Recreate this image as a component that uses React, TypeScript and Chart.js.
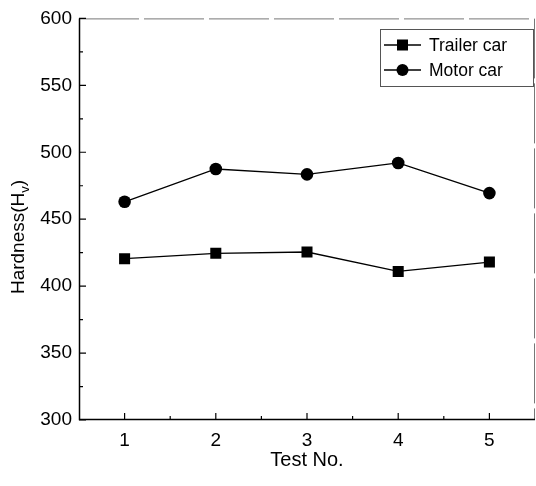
import React, { useEffect, useRef } from "react";
import { Chart, registerables } from "chart.js";

Chart.register(...registerables);

const testNumbers = ["1", "2", "3", "4", "5"];
const trailerCar = [420.5, 424.5, 425.5, 411, 418];
const motorCar = [463, 487.5, 483.5, 492, 469.5];
const yTickValues = [300, 350, 400, 450, 500, 550, 600];
const seriesNames = ["Trailer car", "Motor car"];
const xTitle = "Test No.";
const yTitleMain = "Hardness(H";
const yTitleSub = "v";
const yTitleEnd = ")";

const FONT = "'Liberation Sans', Arial, sans-serif";

const framePlugin = {
  id: "frame",
  afterDraw(chart: any) {
    const { ctx, chartArea: a, scales } = chart;
    const x = scales.x;
    const y = scales.y;
    ctx.save();
    // frame
    ctx.lineWidth = 1;
    ctx.strokeStyle = "#777";
    ctx.setLineDash([60, 5]);
    ctx.beginPath();
    ctx.moveTo(a.left, a.top + 0.5);
    ctx.lineTo(a.right - 0.5, a.top + 0.5);
    ctx.lineTo(a.right - 0.5, a.bottom);
    ctx.stroke();
    ctx.setLineDash([]);
    ctx.strokeStyle = "#000";
    ctx.lineWidth = 1.5;
    ctx.beginPath();
    ctx.moveTo(a.left + 0.5, a.top);
    ctx.lineTo(a.left + 0.5, a.bottom - 0.5);
    ctx.lineTo(a.right, a.bottom - 0.5);
    ctx.stroke();

    // inward ticks
    ctx.lineWidth = 1.2;
    ctx.beginPath();
    const xs: number[] = x.ticks.map((_: any, i: number) => x.getPixelForTick(i));
    xs.forEach((px: number) => {
      ctx.moveTo(px, a.bottom);
      ctx.lineTo(px, a.bottom - 7);
    });
    for (let i = 0; i < xs.length - 1; i++) {
      const m = (xs[i] + xs[i + 1]) / 2;
      ctx.moveTo(m, a.bottom);
      ctx.lineTo(m, a.bottom - 4);
    }
    y.ticks.forEach((t: any, i: number) => {
      const py = y.getPixelForValue(t.value);
      ctx.moveTo(a.left, py);
      ctx.lineTo(a.left + 7, py);
      if (i < y.ticks.length - 1) {
        const pm = y.getPixelForValue((t.value + y.ticks[i + 1].value) / 2);
        ctx.moveTo(a.left, pm);
        ctx.lineTo(a.left + 4, pm);
      }
    });
    ctx.stroke();

    // axis titles
    ctx.fillStyle = "#000";
    ctx.font = `20px ${FONT}`;
    ctx.textAlign = "center";
    ctx.textBaseline = "middle";
    ctx.fillText(xTitle, (a.left + a.right) / 2, 460);

    ctx.save();
    ctx.translate(19, 237);
    ctx.rotate(-Math.PI / 2);
    ctx.font = `19px ${FONT}`;
    const w1 = ctx.measureText(yTitleMain).width;
    ctx.font = `13px ${FONT}`;
    const w2 = ctx.measureText(yTitleSub).width;
    ctx.font = `19px ${FONT}`;
    const w3 = ctx.measureText(yTitleEnd).width;
    const total = w1 + w2 + w3;
    let cx = -total / 2;
    ctx.textAlign = "left";
    ctx.fillText(yTitleMain, cx, 0);
    cx += w1;
    ctx.font = `13px ${FONT}`;
    ctx.fillText(yTitleSub, cx, 6);
    cx += w2;
    ctx.font = `19px ${FONT}`;
    ctx.fillText(yTitleEnd, cx, 0);
    ctx.restore();

    // legend
    const bx = 380, by = 29, bw = 153, bh = 57;
    ctx.strokeStyle = "#555";
    ctx.lineWidth = 1;
    ctx.strokeRect(bx + 0.5, by + 0.5, bw, bh);
    const rows = [by + 16, by + 41];
    const styles = ["rect", "circle"];
    rows.forEach((ry, i) => {
      ctx.strokeStyle = "#000";
      ctx.lineWidth = 1.3;
      ctx.beginPath();
      ctx.moveTo(bx + 4, ry);
      ctx.lineTo(bx + 41, ry);
      ctx.stroke();
      ctx.fillStyle = "#000";
      if (styles[i] === "rect") {
        ctx.fillRect(bx + 17, ry - 5.5, 11, 11);
      } else {
        ctx.beginPath();
        ctx.arc(bx + 22.5, ry, 6, 0, Math.PI * 2);
        ctx.fill();
      }
      ctx.font = `17.5px ${FONT}`;
      ctx.textAlign = "left";
      ctx.textBaseline = "middle";
      ctx.fillText(seriesNames[i], bx + 49, ry + 1);
    });
    ctx.restore();
  },
};

export default function App() {
  const ref = useRef<HTMLCanvasElement>(null);
  useEffect(() => {
    document.body.style.margin = "0";
    const chart = new Chart(ref.current as HTMLCanvasElement, {
      type: "line",
      data: {
        labels: testNumbers,
        datasets: [
          {
            label: seriesNames[0],
            data: trailerCar,
            borderColor: "#000",
            backgroundColor: "#000",
            borderWidth: 1.3,
            pointStyle: "rect",
            pointRadius: 7.8,
            pointBorderWidth: 0,
            tension: 0,
          },
          {
            label: seriesNames[1],
            data: motorCar,
            borderColor: "#000",
            backgroundColor: "#000",
            borderWidth: 1.3,
            pointStyle: "circle",
            pointRadius: 6.3,
            pointBorderWidth: 0,
            tension: 0,
          },
        ],
      },
      options: {
        responsive: false,
        animation: false,
        layout: { autoPadding: false, padding: { top: 15, right: 1, left: 0, bottom: 0 } },
        plugins: { legend: { display: false }, tooltip: { enabled: false } },
        scales: {
          x: {
            type: "category",
            offset: true,
            grid: { display: false, drawTicks: false },
            border: { display: false },
            ticks: {
              color: "#000",
              font: { family: FONT, size: 19 },
              padding: 9,
            },
            afterFit: (s: any) => {
              s.height = 66;
            },
          },
          y: {
            min: 300,
            max: 600,
            grid: { display: false, drawTicks: false },
            border: { display: false },
            afterBuildTicks: (s: any) => {
              s.ticks = yTickValues.map((v) => ({ value: v }));
            },
            ticks: {
              color: "#000",
              font: { family: FONT, size: 19 },
              padding: 7,
            },
            afterFit: (s: any) => {
              s.width = 79;
            },
          },
        },
      },
      plugins: [framePlugin],
    } as any);
    return () => chart.destroy();
  }, []);
  return <canvas ref={ref} width={536} height={486} />;
}
